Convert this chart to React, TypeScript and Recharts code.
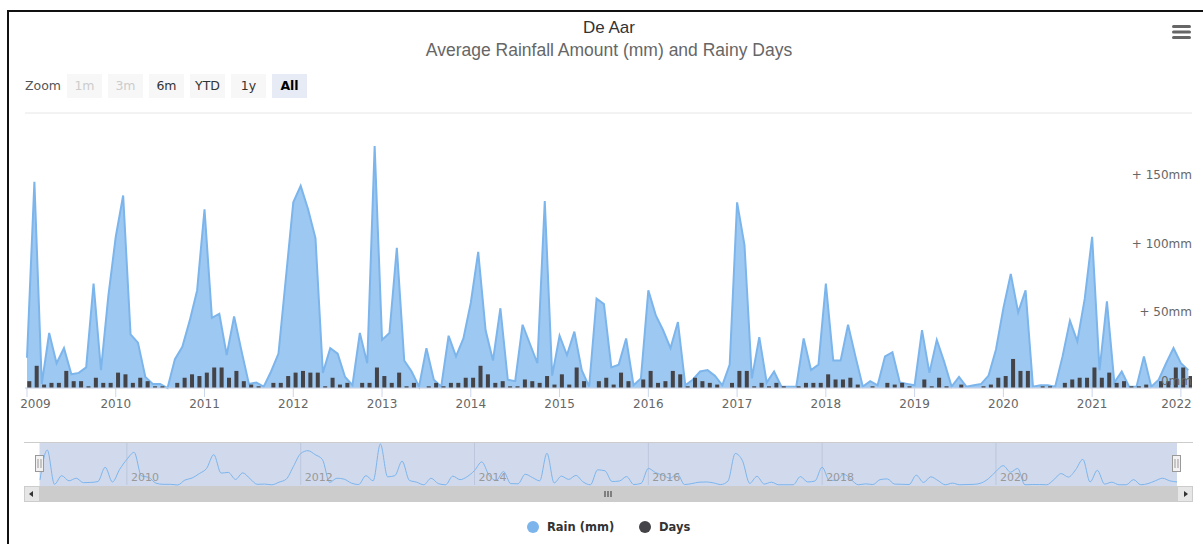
import React from 'react';
import { ComposedChart, LineChart, Line, Area, Bar, XAxis, YAxis, CartesianGrid, ReferenceLine } from 'recharts';

// Monthly values, Jan 2009 .. Feb 2022
const START_YEAR = 2009;
const YEAR_LABELS = ['2009', '2010', '2011', '2012', '2013', '2014', '2015', '2016', '2017', '2018', '2019', '2020', '2021', '2022'];

const RAIN_MM = [
  22, 150, 3, 40, 18, 29, 10, 11, 15, 76, 13, 67, // 2009
  110, 140, 39, 33, 8, 3, 3, 0, 21, 30, 49, 71, // 2010
  130, 51, 54, 24, 52, 27, 3, 4, 1, 12, 25, 80, // 2011
  135, 147, 130, 109, 11, 29, 25, 8, 2, 40, 18, 176, // 2012
  35, 40, 102, 20, 12, 1, 29, 6, 1, 38, 23, 36, // 2013
  62, 99, 42, 20, 58, 6, 5, 46, 32, 18, 136, 9, // 2014
  38, 24, 41, 13, 1, 65, 61, 15, 17, 36, 2, 7, // 2015
  71, 53, 42, 29, 48, 2, 6, 12, 13, 9, 2, 17, // 2016
  135, 104, 7, 37, 4, 12, 1, 1, 1, 36, 13, 17, // 2017
  76, 20, 20, 46, 23, 1, 5, 2, 23, 26, 4, 3, // 2018
  2, 42, 11, 35, 19, 1, 8, 1, 2, 3, 9, 28, // 2019
  58, 83, 55, 71, 1, 2, 2, 1, 23, 49, 34, 65, // 2020
  110, 13, 63, 4, 12, 1, 1, 23, 1, 6, 18, 29, // 2021
  18, 13, // 2022
];

const RAINY_DAYS = [
  4, 13, 2, 3, 3, 10, 4, 4, 1, 6, 3, 3, // 2009
  9, 8, 3, 6, 4, 1, 1, 0, 3, 6, 8, 7, // 2010
  9, 12, 12, 6, 10, 4, 2, 1, 0, 3, 3, 7, // 2011
  9, 10, 9, 9, 1, 6, 2, 3, 0, 3, 3, 12, // 2012
  7, 3, 9, 1, 3, 0, 1, 3, 1, 3, 3, 6, // 2013
  6, 13, 8, 3, 4, 1, 1, 5, 4, 3, 7, 2, // 2014
  8, 2, 12, 4, 0, 4, 6, 2, 9, 4, 0, 5, // 2015
  10, 3, 4, 10, 8, 1, 6, 4, 3, 2, 0, 3, // 2016
  10, 10, 1, 3, 1, 3, 1, 0, 1, 3, 3, 3, // 2017
  8, 5, 5, 6, 2, 0, 1, 0, 3, 2, 3, 1, // 2018
  0, 5, 1, 6, 1, 0, 2, 0, 0, 1, 2, 6, // 2019
  7, 17, 10, 10, 0, 1, 1, 0, 3, 5, 6, 6, // 2020
  12, 6, 9, 3, 4, 1, 1, 2, 0, 4, 4, 12, // 2021
  12, 7, // 2022
];

const RAIN_TICKS = [0, 50, 100, 150, 200];
const RAIN_LABEL_TICKS = [0, 50, 100, 150];
const YEAR_TICKS = YEAR_LABELS.map((_, k) => k * 12);
const NAV_YEAR_TICKS = [12, 36, 60, 84, 108, 132];
const ZOOM_BUTTONS = ['1m', '3m', '6m', 'YTD', '1y', 'All'];
const DISABLED_BUTTONS = ['1m', '3m'];
const SELECTED_BUTTON = 'All';

const data = RAIN_MM.map((r, i) => ({
  i,
  month: `${START_YEAR + Math.floor(i / 12)}-${String((i % 12) + 1).padStart(2, '0')}`,
  rain: r,
  days: RAINY_DAYS[i],
}));

const FONT = 'DejaVu Sans, Verdana, sans-serif';
const RAIN_COLOR = '#7cb5ec';
const DAYS_COLOR = '#434348';

const rainLabel = (v: number) => (v === 0 ? '0mm' : `+ ${v}mm`);

const makeRainLabel = (v: number) => (props: any) => {
  const vb = props.viewBox || {};
  return (
    <text x={(vb.x || 0) + (vb.width || 0)} y={(vb.y || 0) - 3} textAnchor="end" fill="#666666" fontSize={12} fontFamily={FONT}>
      {rainLabel(v)}
    </text>
  );
};

// year labels: justified so that the first/last ones stay inside the chart
const YearTick = (props: any) => {
  const { x, y, payload } = props;
  const half = 15.5;
  let cx = Math.max(x, 20 + half);
  cx = Math.min(cx, 1192 - half);
  return (
    <text x={cx} y={y} dy="0.71em" textAnchor="middle" fill="#666666" fontSize={12} fontFamily={FONT}>
      {YEAR_LABELS[Math.round(payload.value / 12)]}
    </text>
  );
};

const DaysBar = (p: any) => {
  if (!p.height || p.height <= 0) return <g />;
  return <rect x={p.x + 2} y={p.y} width={p.width} height={p.height} fill={DAYS_COLOR} />;
};

const abs = (left: number, top: number): React.CSSProperties => ({ position: 'absolute', left, top });

export default function App() {
  const W = 1203;
  const H = 544;
  let bx = 67;
  return (
    <div style={{ position: 'absolute', left: 0, top: 0, width: W, height: H, overflow: 'hidden', background: '#fff', fontFamily: FONT }}>
      {/* frame */}
      <div style={{ position: 'absolute', left: 7, top: 10, width: 1300, height: 700, border: '2px solid #111', boxSizing: 'border-box' }} />

      <svg width={W} height={H} style={abs(0, 0)}>
        <text x={609} y={33} textAnchor="middle" fontSize={17} fill="#333333" fontFamily="Liberation Sans, Arial, sans-serif">De Aar</text>
        <text x={609} y={56} textAnchor="middle" fontSize={17.5} fill="#666666" fontFamily="Liberation Sans, Arial, sans-serif">Average Rainfall Amount (mm) and Rainy Days</text>

        {/* hamburger */}
        <rect x={1172} y={25} width={19} height={3} rx={1.5} fill="#666" />
        <rect x={1172} y={30.5} width={19} height={3} rx={1.5} fill="#666" />
        <rect x={1172} y={36} width={19} height={3} rx={1.5} fill="#666" />

        {/* zoom buttons */}
        <text x={25} y={90} fontSize={12.5} fill="#555" fontFamily={FONT}>Zoom</text>
        {ZOOM_BUTTONS.map((b) => {
          const x = bx;
          bx += 41;
          const disabled = DISABLED_BUTTONS.includes(b);
          const selected = b === SELECTED_BUTTON;
          return (
            <g key={b}>
              <rect x={x} y={74} width={35} height={24} fill={selected ? '#e6ebf5' : '#f7f7f7'} />
              <text x={x + 17.5} y={90} textAnchor="middle" fontSize={12.5} fontFamily={FONT}
                fontWeight={selected ? 'bold' : 'normal'} fill={disabled ? '#cccccc' : selected ? '#000' : '#333'}>{b}</text>
            </g>
          );
        })}

        {/* navigator background */}
        <line x1={24} x2={1193} y1={442.5} y2={442.5} stroke="#cccccc" strokeWidth={1} />
        <rect x={39.5} y={443} width={1137.5} height={43} fill="rgba(102,133,194,0.3)" />

        {/* scrollbar */}
        <rect x={24} y={486} width={1169} height={16} fill="#f2f2f2" />
        <rect x={39.5} y={486} width={1137.5} height={16} fill="#cccccc" />
        <rect x={24.5} y={486.5} width={15} height={15} fill="#e6e6e6" stroke="#cccccc" />
        <path d="M 33 491 L 33 497 L 29 494 Z" fill="#333" />
        <rect x={1177.5} y={486.5} width={15} height={15} fill="#e6e6e6" stroke="#cccccc" />
        <path d="M 1184 491 L 1184 497 L 1188 494 Z" fill="#333" />
        <line x1={605} x2={605} y1={491} y2={497} stroke="#333" />
        <line x1={608} x2={608} y1={491} y2={497} stroke="#333" />
        <line x1={611} x2={611} y1={491} y2={497} stroke="#333" />

        {/* legend */}
        <circle cx={533} cy={527} r={6} fill={RAIN_COLOR} />
        <text x={547} y={531} fontSize={11.5} fontWeight="bold" fill="#333333" fontFamily={FONT}>Rain (mm)</text>
        <circle cx={645} cy={527} r={6} fill={DAYS_COLOR} />
        <text x={659} y={531} fontSize={11.5} fontWeight="bold" fill="#333333" fontFamily={FONT}>Days</text>
      </svg>

      {/* main chart */}
      <div style={abs(0, 0)}>
        <ComposedChart width={W} height={H} data={data} margin={{ top: 113, right: 11, bottom: 126, left: 25 }}>
          <CartesianGrid yAxisId="rain" vertical={false} stroke="#e6e6e6" />
          <XAxis
            type="number"
            dataKey="i"
            domain={[-0.27, 157.5]}
            allowDataOverflow
            ticks={YEAR_TICKS}
            interval={0}
            height={30}
            tickSize={9}
            tickMargin={2}
            axisLine={{ stroke: '#ccd6eb' }}
            tickLine={{ stroke: '#ccd6eb' }}
            tick={<YearTick />}
          />
          <YAxis
            yAxisId="rain"
            orientation="right"
            mirror
            width={0}
            domain={[0, 200]}
            ticks={RAIN_TICKS}
            interval={0}
            axisLine={false}
            tickLine={false}
            tick={false}
          />
          <YAxis yAxisId="days" hide domain={[0, 161]} />
          {RAIN_LABEL_TICKS.map((v) => (
            <ReferenceLine key={v} yAxisId="rain" y={v} stroke="none" label={makeRainLabel(v)} />
          ))}
          <Area
            yAxisId="rain"
            type="linear"
            dataKey="rain"
            name="Rain (mm)"
            stroke={RAIN_COLOR}
            strokeWidth={2}
            fill={RAIN_COLOR}
            fillOpacity={0.75}
            dot={false}
            activeDot={false}
            isAnimationActive={false}
          />
          <Bar yAxisId="days" dataKey="days" name="Days" barSize={4} fill={DAYS_COLOR} shape={<DaysBar />} isAnimationActive={false} />
        </ComposedChart>
      </div>

      {/* navigator series */}
      <div style={abs(0, 0)}>
        <LineChart width={W} height={H} data={data} margin={{ top: 443, right: 26, bottom: 59, left: 40 }}>
          <XAxis type="number" dataKey="i" domain={[0, 157]} hide />
          <YAxis domain={[0, 180]} hide />
          {NAV_YEAR_TICKS.map((t) => (
            <ReferenceLine
              key={t}
              x={t}
              stroke="#bcc6dc"
              strokeWidth={1}
              label={{ value: YEAR_LABELS[t / 12], position: 'insideBottomLeft', offset: 4, fill: '#999999', fontSize: 11, fontFamily: FONT }}
            />
          ))}
          <Line type="monotone" dataKey="rain" stroke={RAIN_COLOR} strokeWidth={1} dot={false} activeDot={false} isAnimationActive={false} />
        </LineChart>
      </div>

      {/* navigator handles */}
      <svg width={W} height={H} style={abs(0, 0)}>
        {[39.5, 1176.5].map((cx) => (
          <g key={cx}>
            <rect x={cx - 4} y={455.5} width={8} height={16} fill="#f2f2f2" stroke="#999999" />
            <line x1={cx - 1.5} x2={cx - 1.5} y1={459} y2={468} stroke="#999999" />
            <line x1={cx + 1.5} x2={cx + 1.5} y1={459} y2={468} stroke="#999999" />
          </g>
        ))}
      </svg>
    </div>
  );
}
